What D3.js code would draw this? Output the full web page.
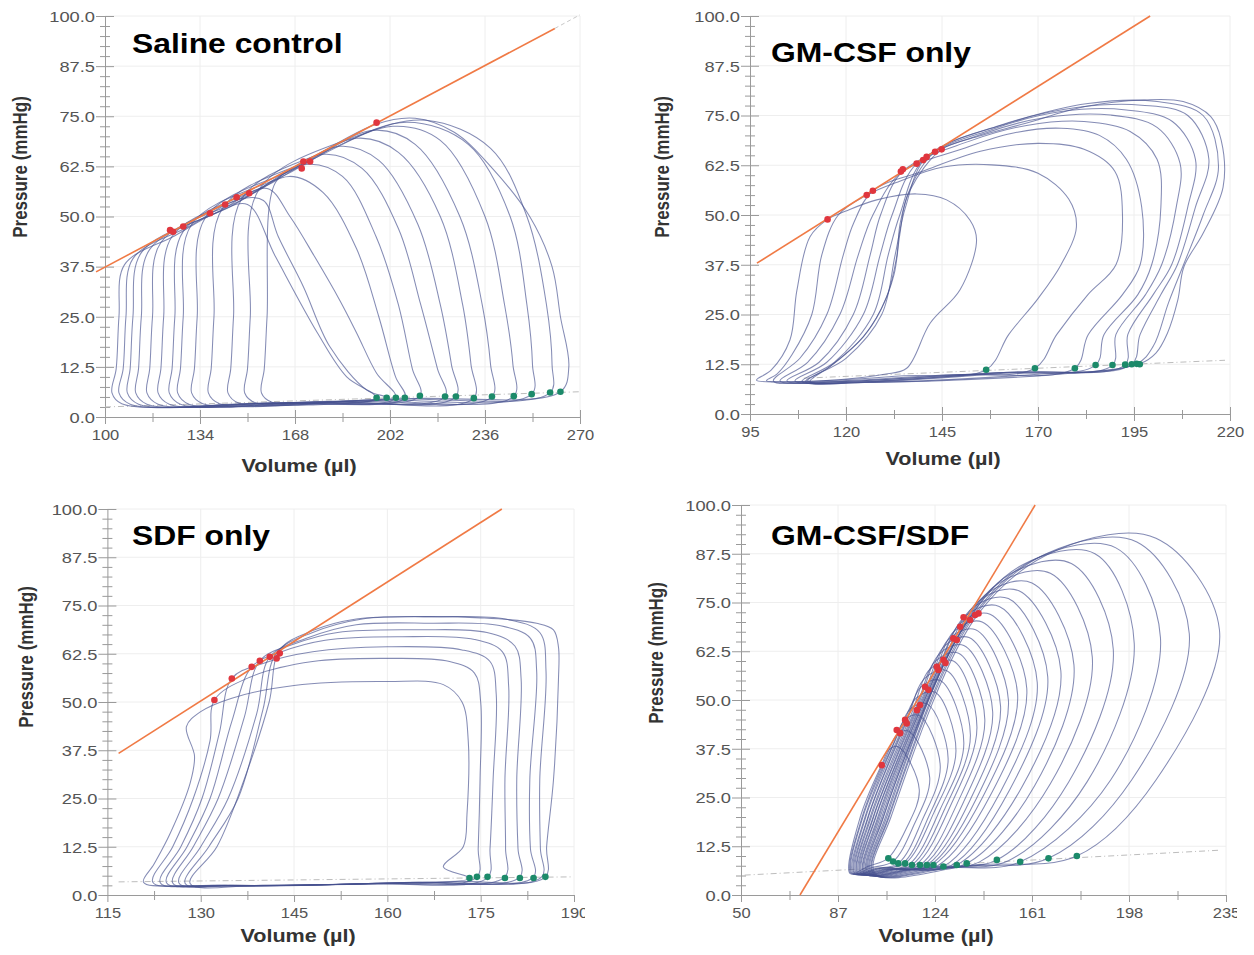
<!DOCTYPE html>
<html>
<head>
<meta charset="utf-8">
<script src="https://cdn.jsdelivr.net/npm/d3@7/dist/d3.min.js"></script>
<style>
  body { margin: 0; background: #fff; }
  svg { display: block; }
</style>
</head>
<body>
<div id="chart"></div>
<script>
// ---------- shared ticks ----------
const yTicks = [0, 12.5, 25, 37.5, 50, 62.5, 75, 87.5, 100];
const yMinorTicks = d3.range(0, 100.01, 2.5).filter(v => v % 12.5 !== 0);

// ---------- Saline control ----------
const salineXTicks = [100, 134, 168, 202, 236, 270];
const salineXMinor = [117, 151, 185, 219, 253];
const salineLoops = [
  [[197,4.8],[186.5,10],[176,21],[161,40],[151,53],[140,51],[125,45.2],[107,38],[105,25],[104,12],[102.5,6],[106,3.3],[150,3.3]],
  [[201,4.8],[193.7,6.7],[180.5,17.5],[171,32.5],[162,45],[156.7,54],[148,54.3],[130,47.5],[110,39.5],[107.5,25],[106.5,12],[105,6],[109,3.2],[155,3.4]],
  [[204,4.8],[197.2,10.9],[190.1,20.9],[184.1,29],[175,40],[166.2,50],[158,57],[140,51],[113,41],[110,25],[109,12],[108,6],[112,3.2],[157,3.5]],
  [[207.3,4.8],[204,10],[198,25],[190,42],[178,56],[166,60],[145,52.5],[116,41.8],[113,25],[112,12],[111,6],[115,3.2],[160,3.5]],
  [[212.7,5.3],[210,12],[205,28],[197,45],[185,60],[172,63],[150,54.5],[120,43.5],[117,25],[116,12],[115,6],[119,3.2],[165,3.6]],
  [[221.7,5.1],[219,12],[213,28],[205,47],[192,62],[178,65.5],[155,56.5],[124,45],[121,25],[120,12],[119,6],[123,3.2],[170,3.7]],
  [[225.6,5.1],[224,13],[220,28],[212,48],[198,64],[184,67.5],[160,58.5],[128,46.3],[125,25],[124,12],[123,6],[127,3.2],[175,3.8]],
  [[232,4.7],[231,13],[228,28],[220,50],[205,66],[190,69.5],[165,60.5],[131,48],[128,25],[127,12],[126,6],[130,3.2],[180,3.9]],
  [[238.5,5.1],[238,13],[235,28],[227,50],[211,68],[196,71.5],[170,62.5],[136,49.8],[133,25],[132,12],[131,6],[135,3.3],[185,4]],
  [[246.3,5.2],[246,13],[243,28],[236,50],[220,69],[203,72.5],[175,64.5],[142,52],[139,25],[138,12],[137,6],[141,3.3],[190,4.1]],
  [[252.7,5.7],[253,13],[251,28],[245,50],[230,68],[208,73.5],[180,66.5],[149,54.5],[146,25],[145,12],[144,6],[148,3.4],[195,4.3]],
  [[259.3,6.1],[260,13],[258,28],[251,50],[238,67],[215,74],[190,70],[155,56.6],[152,25],[151,12],[150,6],[154,3.5],[200,4.5]],
  [[263,6.3],[266,12.5],[263,25],[260,37.5],[252,50],[238,62.5],[225,71],[211,74.5],[197,73],[170,62.8],[161,58.5],[158,25],[157,12],[156,6],[160,3.6],[210,4.6]]
];
const salineRed = [[123.3,46.6],[124.4,46.2],[128,47.5],[137.6,50.8],[143,53],[147.1,54.8],[151.6,55.8],[170.4,62],[171,63.7],[173.4,63.7],[197.2,73.4]];
const salineGreen = [[197.2,4.8],[200.8,4.8],[204.1,4.8],[207.3,4.8],[212.7,5.3],[221.7,5.1],[225.6,5.1],[232,4.7],[238.5,5.1],[246.3,5.2],[252.7,5.7],[259.3,6.1],[263,6.3]];
const salineEspvr = [[96.8,36.2],[261,96.9]];
const salineEspvrExt = [[261,96.9],[270,100.3]];
const salineEdpvr = [[100,2.5],[270,6.3]];

// ---------- GM-CSF only ----------
const gmXTicks = [95, 120, 145, 170, 195, 220];
const gmXMinor = [107.5, 132.5, 157.5, 182.5, 207.5];
const gmLoops = [
  [[135.8,11.5],[141.9,22.8],[149.7,31.2],[154,43.7],[152.3,48.7],[146.2,53.8],[138.4,55.3],[128,53.8],[120,51],[115.2,48.9],[110.6,44.5],[107.2,31],[105.4,18.6],[100.5,11],[96.7,8.5],[104,8.1],[118,8.6],[130,10]],
  [[156.5,11.1],[162.4,20],[170,29],[176,37.5],[180,47],[178,54],[170,60.5],[158,62.6],[145,62],[134,58.5],[125.4,55],[118,50],[113.7,40],[111.1,25],[106,15],[102,10],[99.3,8.4],[110,8.2],[135,9.6]],
  [[169.2,11.5],[174.9,20],[183,30],[190.3,37.5],[192,50],[190,61],[182,66.5],[170,68],[155,66],[140,61],[127,56.1],[122,48],[119.3,40],[115,25],[108,14],[101.1,8.3],[115,8.2],[145,9.8]],
  [[179.6,11.5],[183.1,20],[192,30],[196.6,37.5],[197,52],[193,64],[186,70],[176,71.8],[163,70.5],[150,66.5],[134.3,60.6],[127,50],[123.2,40],[118.4,25],[110,13],[102.8,8.3],[120,8.2],[150,9.9]],
  [[185,12.3],[187.2,20],[196,30],[199.6,37.5],[202,52],[201,64],[194,71],[182,73.5],[167,72.5],[152,68.5],[134.8,61],[129,50],[126.3,40],[121.9,25],[113,13],[104.6,8.3],[120,8.2],[155,10.2]],
  [[189.4,12.3],[190.3,20],[198,30],[202.2,37.5],[206,52],[207,63],[201,72],[189,75.1],[172,74.5],[156,70.5],[138.4,62.9],[132,50],[128.9,40],[124.5,25],[115,13],[106.7,8.3],[125,8.2],[160,10.4]],
  [[192.7,12.4],[193.4,20],[200,30],[204.8,37.5],[209,52],[211,64],[205,73.5],[193,76.4],[176,76],[158,71.5],[140.1,63.8],[134,50],[131,40],[127.1,25],[117,13],[108.5,8.2],[125,8.1],[162,10.5]],
  [[194.4,12.5],[196.6,20],[202,30],[206.3,37.5],[211,52],[214.5,64],[209,75],[197,77.6],[180,77],[160,72.5],[141,64.6],[135.5,52],[132.8,40],[129.3,25],[120,14],[109.5,8.1],[125,8],[165,10.5]],
  [[195.7,12.6],[200,17],[204,28],[207.9,37.5],[213,50],[217,62],[213,75],[201,78.5],[183,78],[162,73],[143.2,65.9],[136,55],[134,45],[132.5,35],[129,26],[124.5,19.4],[115.8,11.9],[110,8.3],[125,7.9],[170,10]],
  [[196.5,12.6],[200.7,15.3],[203.7,20.3],[206.4,28.6],[208,37],[213,45.4],[218.2,57],[217.7,68.8],[215,74.7],[207.8,78.5],[197.6,78.9],[182,77.2],[166.6,73],[154.3,69.7],[144.9,66.5],[136.7,56.3],[134.1,47.9],[133.2,39.5],[130.6,29.5],[124.5,19.4],[115.8,11.9],[110.6,8.1],[124.4,7.9],[172.9,9.8]]
];
const gmRed = [[115.2,48.9],[125.4,55],[127,56.1],[134.3,60.9],[134.8,61.5],[138.4,62.9],[140.1,63.8],[141,64.6],[143.2,65.9],[144.9,66.5]];
const gmGreen = [[156.5,11.1],[169.2,11.5],[179.6,11.5],[185,12.3],[189.4,12.3],[192.7,12.4],[194.4,12.5],[195.7,12.6],[196.5,12.5]];
const gmEspvr = [[96.8,37.9],[199.2,100]];
const gmEdpvr = [[109,9],[218.7,13.5]];

// ---------- SDF only ----------
const sdfXTicks = [115, 130, 145, 160, 175, 190];
const sdfXMinor = [122.5, 137.5, 152.5, 167.5, 182.5];
const sdfLoops = [
  [[173.2,4.4],[169,7.3],[172.2,12.5],[172.8,21],[173,40],[172,50],[169,54.5],[160,55.3],[145,54.3],[135,51],[130,47.5],[127.7,43.6],[129,36],[128.3,29],[125.1,16],[122.5,8],[120.8,3.3],[128,2.4],[150,2.7]],
  [[174.4,4.7],[174.6,12],[174.9,30],[175,50],[174,57.5],[170,60.5],[160,61.3],[148,60.5],[138,56.5],[132.2,50.5],[131.5,40],[128.8,25],[125.5,12.5],[122.3,3.3],[130,2.4],[155,2.9]],
  [[176.1,4.5],[176.5,12],[177,30],[177.5,52],[176.5,60.5],[172,63.5],[160,64.3],[148,63],[140,60],[135,56.1],[133,42],[130.2,25],[126.8,12.5],[123.5,3.2],[132,2.5],[157,3]],
  [[178.9,4.7],[179,12],[178.9,30],[179.5,54],[178.5,63],[174,66.2],[162,66.9],[150,66],[143,63],[138.2,59.1],[135,45],[131.5,25],[127.8,12.5],[124.5,3.2],[133,2.5],[160,3.1]],
  [[181.3,4.7],[181,12],[180.8,30],[181.5,56],[180.5,64.5],[176,68],[165,68.7],[152,68],[145,65],[139.5,60.7],[137,46],[132.8,25],[128.8,12.5],[125.5,3.1],[134,2.5],[162,3.2]],
  [[183.5,4.7],[183,12],[182.9,30],[184,58],[183,66.5],[178,69.8],[167,70.4],[155,70],[147,66.5],[141.1,61.7],[139,47],[134.4,25],[130,12.5],[126.5,3.1],[135,2.5],[164,3.3]],
  [[184.8,4.7],[184.6,12],[184.5,30],[185.5,58],[184.5,68],[179,71.5],[168,72.1],[156,71.5],[148,68],[142.2,62.8],[140,48],[136,25],[131.3,12.5],[127.5,3],[136,2.5],[165,3.3]],
  [[185.4,4.7],[185.6,12.5],[186.7,29.8],[187.5,55.7],[187.5,64.3],[186.7,68.7],[184,70.4],[175,71.8],[165,72.1],[155,71.5],[148,68.5],[142.7,63.5],[141,50],[137,30],[132.6,12.5],[128.3,3],[140,2.5],[170,3.5]]
];
const sdfRed = [[132.2,50.5],[135,56.1],[138.2,59.1],[139.5,60.7],[141.1,61.7],[142.2,61.3],[142.7,62.6]];
const sdfGreen = [[173.2,4.4],[174.4,4.7],[176.1,4.7],[178.9,4.4],[181.3,4.4],[183.5,4.4],[185.4,4.7]];
const sdfEspvr = [[116.8,36.7],[178.4,100]];
const sdfEdpvr = [[116.8,3.4],[189.8,4.7]];

// ---------- GM-CSF/SDF (one entry per loop) ----------
const gcXTicks = [50, 87, 124, 161, 198, 235];
const gcXMinor = [68.5, 105.5, 142.5, 179.5, 216.5];
const gcEdv   = [106, 108, 110, 111.5, 112.6, 114, 115.2, 116.5, 118.3, 119.5, 120.9, 122, 123.4, 125, 127.2, 130, 132.3, 136.1, 141, 147.6, 152, 156.5, 167.3, 178.1];
const gcEdp   = [9.4, 8.6, 8.1, 8, 8.1, 7.8, 7.7, 7.7, 7.7, 7.6, 7.7, 7.6, 7.7, 7.5, 7.3, 7.5, 7.7, 8.1, 8.5, 9, 8.8, 8.5, 9.4, 10];
const gcRlowV = [113, 116, 119, 121.5, 123.5, 126, 128, 130, 132.5, 135, 137.5, 140, 142.5, 145.5, 149, 152.5, 157, 162, 168, 175, 182, 191, 199, 208.3];
const gcRlowP = [17, 18, 19, 20, 21, 22, 22.5, 23, 23.5, 24, 24.5, 25, 25.5, 26, 26.5, 27, 27.5, 28, 28.5, 29, 29, 29.5, 29.5, 29.5];
const gcRmaxV = [118, 122, 126, 129, 132, 135, 137.5, 140, 143, 146, 149, 152, 155.5, 159, 163, 167, 172, 177, 184, 192, 200, 210, 221, 232.5];
const gcRmaxP = [27, 30, 33, 35, 37, 39, 41, 43, 45, 47, 48.5, 50, 51.5, 53, 54.5, 56, 57.5, 59, 61, 63, 64.5, 66, 67, 68];
const gcTopV  = [110, 114, 118, 121, 124, 126, 128.5, 131, 133, 135, 137, 139.5, 142, 145, 148.5, 152, 156, 161, 168, 176, 185, 193, 201, 208.3];
const gcTopP  = [38, 42, 46, 49, 52, 55, 57.5, 60, 62, 64, 66, 68, 70, 72, 74, 76, 78, 80, 82.5, 85, 87.5, 89, 90.5, 91.5];
const gcEsv   = [103.7, 106, 108, 109.4, 110.7, 112.6, 113.2, 115, 117.1, 118.3, 120.2, 121.5, 123, 124.7, 125.3, 127.2, 129, 131, 132.3, 133.6, 134.9, 137.4, 139.3, 140.6];
const gcEsp   = [33.5, 36.4, 38.6, 40.5, 41.5, 44, 44.5, 46.4, 48.7, 50, 52.2, 53.6, 55.3, 57.2, 58, 60, 62, 64.2, 65.7, 67.1, 68.6, 70.5, 71.8, 72.2];
const gcLeftV = [95.5, 96.2, 96.5, 97.3, 97.6, 98.4, 98.6, 99.3, 99.7, 100.4, 100.6, 101.3, 101.5, 102.2, 102.6, 103.1, 103.7, 104.2, 104.4, 105.1, 105.6, 106.2, 106.5, 107.2];
const gcCornerV = [91.6, 92, 92.4, 92.8, 93.3, 93.6, 94.1, 94.5, 94.8, 95.2, 95.7, 96, 96.4, 96.9, 97.2, 97.6, 98.1, 98.5, 99, 99.4, 99.8, 100.3, 100.7, 101.2];
const gcRed = [[103.7,33.3],[109.4,42.3],[110.7,41.5],[112.6,44.9],[113.2,44],[117.1,47.4],[118.3,48.7],[120.2,53.4],[121.5,52.6],[124.7,58.5],[125.3,57.7],[127.2,60.3],[128,59.5],[131,65.8],[132.3,65.4],[133.6,68.8],[134.9,71.2],[137.4,70.5],[139.3,71.8],[140.6,72.2]];
const gcGreen = [[106.2,9.4],[108,8.6],[110,8.1],[112.6,8.1],[115.2,7.7],[118.3,7.7],[120.9,7.7],[123.4,7.7],[127.2,7.3],[132.3,7.7],[136.1,8.1],[147.6,9],[156.5,8.5],[167.3,9.4],[178.1,10]];
const gcEspvr = [[72.5,0],[162.2,100]];
const gcEdpvr = [[51.4,5.1],[233,11.5]];

// build the egg-shaped loops of the last panel from the per-loop readings
const gcLoops = gcEdv.map((_, k) => [
  [gcEdv[k], gcEdp[k]],
  [gcRlowV[k], gcRlowP[k]],
  [gcRmaxV[k], gcRmaxP[k]],
  [gcTopV[k], gcTopP[k]],
  [gcEsv[k] + (gcTopV[k] - gcEsv[k]) * 0.45, gcTopP[k] - (gcTopP[k] - gcEsp[k]) * 0.15],
  [gcEsv[k], gcEsp[k]],
  [gcLeftV[k], 20],
  [gcCornerV[k], 5.5],
  [(gcCornerV[k] + gcEdv[k]) / 2, (5.5 + gcEdp[k]) / 2]
]);

// ---------- layout ----------
const W = 1254, H = 955;
const FONT = "'Liberation Sans', Arial, Helvetica, sans-serif";
const AXIS = "#9a9a9a", LABEL = "#555", GRID = "#eeeeee";
const LOOP = "#46518f", ORANGE = "#f07a45", RED = "#e0363e", GREEN = "#1c8a6a";

const panels = [
  { title: "Saline control", xDomain: [100, 270], xPx: [105, 580], yPx: [417, 16],
    xTicks: salineXTicks, xMinor: salineXMinor, loops: salineLoops, red: salineRed, green: salineGreen,
    espvr: salineEspvr, espvrExt: salineEspvrExt, edpvr: salineEdpvr,
    titlePos: [132, 53], yTitle: [20, 167], xTitle: [299, 472], xLabY: 440, clipX: null },
  { title: "GM-CSF only", xDomain: [95, 220], xPx: [750, 1230], yPx: [414, 16],
    xTicks: gmXTicks, xMinor: gmXMinor, loops: gmLoops, red: gmRed, green: gmGreen,
    espvr: gmEspvr, espvrExt: null, edpvr: gmEdpvr,
    titlePos: [771, 62], yTitle: [662, 167], xTitle: [943, 465], xLabY: 437, clipX: null },
  { title: "SDF only", xDomain: [115, 190], xPx: [107.4, 574], yPx: [895, 509],
    xTicks: sdfXTicks, xMinor: sdfXMinor, loops: sdfLoops, red: sdfRed, green: sdfGreen,
    espvr: sdfEspvr, espvrExt: null, edpvr: sdfEdpvr,
    titlePos: [132, 545], yTitle: [26, 657], xTitle: [298, 942], xLabY: 918, clipX: 585 },
  { title: "GM-CSF/SDF", xDomain: [50, 235], xPx: [741, 1226], yPx: [895, 505],
    xTicks: gcXTicks, xMinor: gcXMinor, loops: gcLoops, red: gcRed, green: gcGreen,
    espvr: gcEspvr, espvrExt: null, edpvr: gcEdpvr,
    titlePos: [771, 545], yTitle: [656, 653], xTitle: [936, 942], xLabY: 918, clipX: 1237 }
];

const svg = d3.select("#chart").append("svg").attr("width", W).attr("height", H)
  .style("background", "#fff");

panels.forEach((p, i) => drawPanel(p, i));

function drawPanel(p, i) {
  const x = d3.scaleLinear().domain(p.xDomain).range(p.xPx);
  const y = d3.scaleLinear().domain([0, 100]).range(p.yPx);
  const g = svg.append("g");

  // faint grid
  g.append("g").selectAll("line").data(p.xTicks.slice(1)).join("line")
    .attr("x1", d => x(d)).attr("x2", d => x(d)).attr("y1", y(0)).attr("y2", y(100))
    .attr("stroke", GRID);
  g.append("g").selectAll("line").data(yTicks.slice(1)).join("line")
    .attr("x1", x(p.xDomain[0])).attr("x2", x(p.xDomain[1])).attr("y1", d => y(d)).attr("y2", d => y(d))
    .attr("stroke", GRID);

  // minor ticks
  const yMin = g.append("g").attr("transform", `translate(${p.xPx[0]},0)`)
    .call(d3.axisLeft(y).tickValues(yMinorTicks).tickSize(5).tickFormat(""));
  yMin.select(".domain").remove();
  yMin.selectAll(".tick line").attr("x1", 5).attr("stroke", AXIS);
  const xMin = g.append("g").attr("transform", `translate(0,${y(0)})`)
    .call(d3.axisBottom(x).tickValues(p.xMinor).tickSize(5).tickFormat(""));
  xMin.select(".domain").remove();
  xMin.selectAll(".tick line").attr("y1", -4).attr("stroke", AXIS);

  // y axis
  const yAx = g.append("g").attr("transform", `translate(${p.xPx[0]},0)`)
    .call(d3.axisLeft(y).tickValues(yTicks).tickSizeInner(9).tickSizeOuter(0).tickFormat(d3.format(".1f")));
  yAx.attr("font-family", FONT).attr("font-size", 15);
  yAx.select(".domain").attr("stroke", AXIS);
  yAx.selectAll(".tick line").attr("x1", 9).attr("stroke", AXIS);
  yAx.selectAll(".tick text").attr("x", null).attr("dy", "0.35em").attr("fill", LABEL)
    .attr("transform", "translate(-10,0) scale(1.22,1)");

  // x axis
  if (p.clipX) {
    svg.append("clipPath").attr("id", "clip" + i).append("rect")
      .attr("x", 0).attr("y", 0).attr("width", p.clipX).attr("height", H);
  }
  const xAx = g.append("g").attr("transform", `translate(0,${y(0)})`)
    .call(d3.axisBottom(x).tickValues(p.xTicks).tickSizeInner(7).tickSizeOuter(0).tickFormat(d3.format("d")));
  xAx.attr("font-family", FONT).attr("font-size", 15);
  if (p.clipX) xAx.attr("clip-path", `url(#clip${i})`);
  xAx.select(".domain").attr("stroke", AXIS);
  xAx.selectAll(".tick line").attr("y1", -7).attr("stroke", AXIS);
  xAx.selectAll(".tick text").attr("y", null).attr("dy", null).attr("fill", LABEL)
    .attr("transform", `translate(0,${p.xLabY - y(0)}) scale(1.1,1)`);

  // EDPVR (dash-dot)
  const straight = d3.line().x(d => x(d[0])).y(d => y(d[1]));
  g.append("path").attr("d", straight(p.edpvr)).attr("fill", "none")
    .attr("stroke", "#bdbdbd").attr("stroke-width", 1).attr("stroke-dasharray", "6,3,1,3");

  // loops
  const loopLine = d3.line().x(d => x(d[0])).y(d => y(d[1])).curve(d3.curveCatmullRomClosed.alpha(0.5));
  g.append("g").selectAll("path").data(p.loops).join("path")
    .attr("d", loopLine).attr("fill", "none")
    .attr("stroke", LOOP).attr("stroke-width", 1.05).attr("stroke-opacity", 0.66);

  // ESPVR
  g.append("path").attr("d", straight(p.espvr)).attr("fill", "none")
    .attr("stroke", ORANGE).attr("stroke-width", 1.6);
  if (p.espvrExt) {
    g.append("path").attr("d", straight(p.espvrExt)).attr("fill", "none")
      .attr("stroke", "#c8c8c8").attr("stroke-width", 1).attr("stroke-dasharray", "4,3");
  }

  // end-systolic / end-diastolic points
  g.append("g").selectAll("circle").data(p.green).join("circle")
    .attr("cx", d => x(d[0])).attr("cy", d => y(d[1])).attr("r", 3.3).attr("fill", GREEN);
  g.append("g").selectAll("circle").data(p.red).join("circle")
    .attr("cx", d => x(d[0])).attr("cy", d => y(d[1])).attr("r", 3.3).attr("fill", RED);

  // texts
  g.append("text").attr("transform", `translate(${p.titlePos[0]},${p.titlePos[1]}) scale(1.18,1)`)
    .attr("font-family", FONT).attr("font-size", 27).attr("font-weight", "bold").attr("fill", "#000")
    .text(p.title);
  g.append("text").attr("transform", `translate(${p.yTitle[0]},${p.yTitle[1]}) scale(1.2,1) rotate(-90)`)
    .attr("text-anchor", "middle").attr("dy", "0.35em")
    .attr("font-family", FONT).attr("font-size", 17).attr("font-weight", "bold").attr("fill", "#333")
    .text("Pressure (mmHg)");
  g.append("text").attr("transform", `translate(${p.xTitle[0]},${p.xTitle[1]}) scale(1.2,1)`)
    .attr("text-anchor", "middle")
    .attr("font-family", FONT).attr("font-size", 18).attr("font-weight", "bold").attr("fill", "#333")
    .text("Volume (\u00b5l)");
}
</script>
</body>
</html>
